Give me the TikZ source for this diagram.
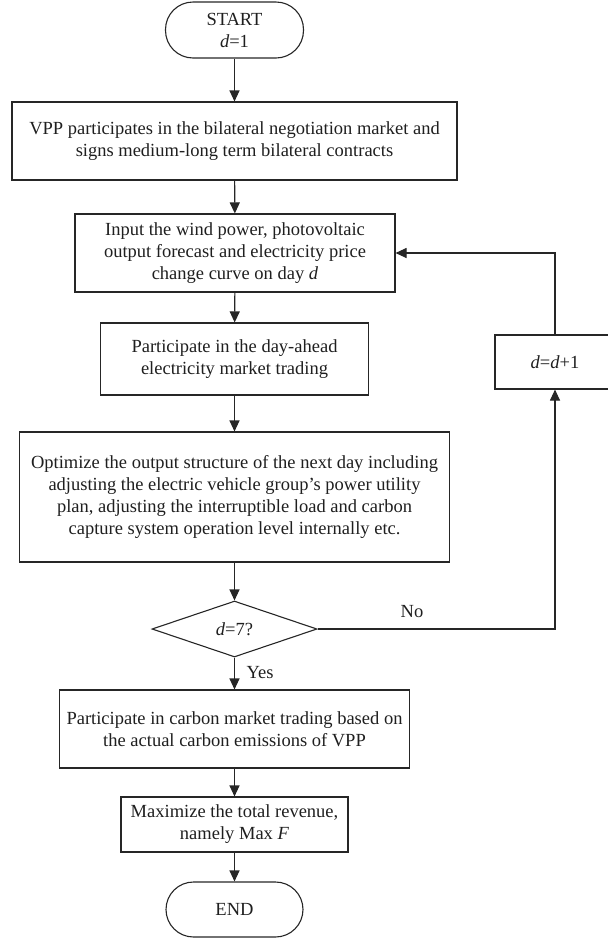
\documentclass[tikz,border=0pt]{standalone}
\usepackage{fontspec}
\setmainfont{Liberation Serif}
\usetikzlibrary{arrows.meta,shapes.geometric}
\begin{document}
\begin{tikzpicture}[x=1pt,y=-1pt,
  every node/.style={font=\fontsize{18.5}{22}\selectfont, text=black!88},
  flowbox/.style={draw=black!85, line width=1.1pt, align=center, inner sep=0pt},
  term/.style={flowbox, rounded corners=27.5pt},
  decide/.style={draw=black!85, line width=1.1pt, diamond, aspect=2.95, inner sep=0pt, align=center},
  link/.style={draw=black!85, line width=1.1pt, -{Triangle[length=11pt,width=10pt]}},
  plain/.style={draw=black!85, line width=1.1pt}]
\useasboundingbox (0,0) rectangle (608,938);
\node[term, minimum width=138pt, minimum height=56pt] (start) at (234.5,30) {START\\\textit{d}=1};
\node[flowbox, minimum width=445pt, minimum height=78pt] (b1) at (234.5,141)
  {VPP participates in the bilateral negotiation market and\\signs medium-long term bilateral contracts};
\node[flowbox, minimum width=320pt, minimum height=78pt] (b2) at (235,253)
  {Input the wind power, photovoltaic\\output forecast and electricity price\\change curve on day \textit{d}};
\node[flowbox, minimum width=268pt, minimum height=72pt] (b3) at (234.5,359)
  {Participate in the day-ahead\\electricity market trading};
\node[flowbox, minimum width=430pt, minimum height=130pt] (b4) at (234.5,497)
  {Optimize the output structure of the next day including\\adjusting the electric vehicle group's power utility\\plan, adjusting the interruptible load and carbon\\capture system operation level internally etc.};
\node[decide, minimum width=165pt, minimum height=56pt] (dec) at (234.5,629) {\textit{d}=7?};
\node[flowbox, minimum width=350pt, minimum height=78pt] (b5) at (234.5,729)
  {Participate in carbon market trading based on\\the actual carbon emissions of VPP};
\node[flowbox, minimum width=227pt, minimum height=55pt] (b6) at (234.5,824.5)
  {Maximize the total revenue,\\namely Max \textit{F}};
\node[term, minimum width=137pt, minimum height=55pt] (stop) at (234.5,909.5) {END};
\node[flowbox, minimum width=120pt, minimum height=54pt] (inc) at (555,362) {\textit{d}=\textit{d}+1};
\coordinate (c1) at (555,629);
\coordinate (c2) at (555,253);
\draw[link] (start) -- (b1);
\draw[link] (b1) -- (b2);
\draw[link] (b2) -- (b3);
\draw[link] (b3) -- (b4);
\draw[link] (b4) -- (dec);
\draw[link] (dec) -- (b5);
\draw[link] (b5) -- (b6);
\draw[link] (b6) -- (stop);
\draw[link] (dec.east) -- (c1) -- (inc.south);
\draw[link] (inc.north) -- (c2) -- (b2.east);
\node (no) at (412,612) {No};
\node[anchor=west] (yes) at (243,673) {Yes};
\end{tikzpicture}
\end{document}
